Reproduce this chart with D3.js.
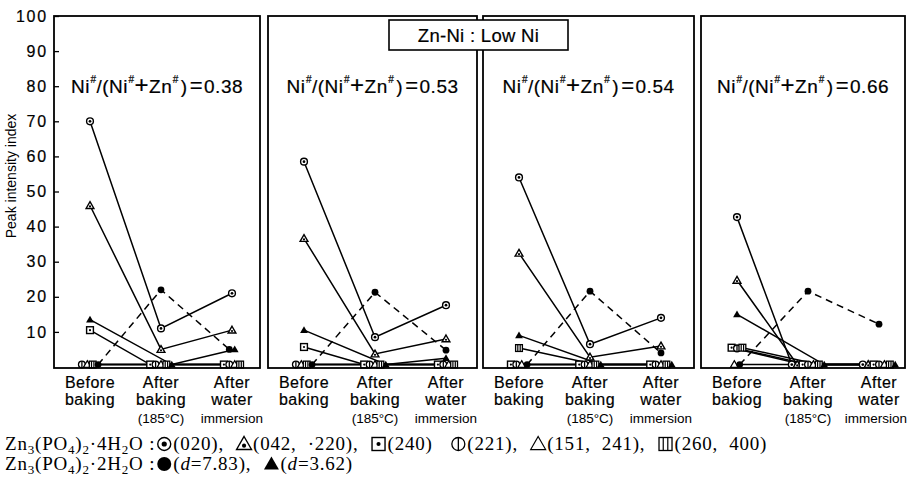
<!DOCTYPE html>
<html>
<head>
<meta charset="utf-8">
<script src="https://cdn.jsdelivr.net/npm/d3@7"></script>
<style>
  html, body { margin: 0; padding: 0; background: #fff; }
  svg { display: block; font-family: "Liberation Sans", Arial, sans-serif; }
  .heavy { stroke: #000; stroke-width: 0.2px; }
</style>
</head>
<body>
<svg id="chart" width="909" height="481"></svg>
<script>
// stages on the x axis of every panel
const stages = ["Before baking", "After baking (185°C)", "After water immersion"];
const ratios = ["0.38", "0.53", "0.54", "0.66"];
const yTicks = [10, 20, 30, 40, 50, 60, 70, 80, 90, 100];

// peak intensity index, one row per panel (Ni ratio), one value per stage
const p020     = [[70, 11, 21], [58.5, 8.5, 17.6], [54, 6.5, 14], [42.7, 0.7, 0.7]];
const p042_220 = [[46, 5, 10.5], [36.6, 3.7, 8], [32.4, 2.8, 6], [24.7, 0.7, 0.7]];
const p240     = [[10.5, 0.7, 0.7], [5.7, 0.7, 0.7], [0.7, 0.7, 0.7], [5.5, 0.7, 0.7]];
const p221     = [[0.7, 0.7, 0.7], [0.7, 0.7, 0.7], [0.7, 0.7, 0.7], [5.3, 0.7, 0.7]];
const p151_241 = [[0.7, 0.7, 0.7], [0.7, 0.7, 0.7], [0.7, 0.7, 0.7], [0.7, 0.7, 0.7]];
const p260_400 = [[0.7, 0.7, 0.7], [0.7, 0.7, 0.7], [5.4, 0.7, 0.7], [5.5, 0.7, 0.7]];
const pD783    = [[0.7, 22, 5], [0.7, 21.3, 4.8], [0.7, 21.6, 4], [0.7, 21.6, 12.2]];
const pD362    = [[13.5, 0.7, 5], [10.5, 0.7, 2.5], [9, 0.7, 0.7], [15, 0.7, 0.7]];

const series = [
  {marker: "circDot", dashed: false, values: p020},
  {marker: "triDot",  dashed: false, values: p042_220},
  {marker: "sqDot",   dashed: false, values: p240},
  {marker: "circBar", dashed: false, values: p221},
  {marker: "tri",     dashed: false, values: p151_241},
  {marker: "sqBars",  dashed: false, values: p260_400},
  {marker: "dot",     dashed: true,  values: pD783},
  {marker: "triFill", dashed: false, values: pD362},
];

const svg = d3.select("#chart");

const y = d3.scaleLinear().domain([0, 100]).range([367, 16]);
const panelEdges = [[54, 260], [268, 477], [483, 694], [701, 905]];

const triPath = s => `M0,${-s * 1.15}L${s * 1.15},${s * 0.85}L${-s * 1.15},${s * 0.85}Z`;
const markerDraw = {
  circDot: (g, s) => {
    g.append("circle").attr("r", s).attr("fill", "#fff").attr("stroke", "#000").attr("stroke-width", 1.4);
    g.append("circle").attr("r", s * 0.4).attr("fill", "#000");
  },
  triDot: (g, s) => {
    g.append("path").attr("d", triPath(s)).attr("fill", "#fff").attr("stroke", "#000").attr("stroke-width", 1.4);
    g.append("circle").attr("cy", s * 0.25).attr("r", s * 0.32).attr("fill", "#000");
  },
  sqDot: (g, s) => {
    g.append("rect").attr("x", -s).attr("y", -s).attr("width", 2 * s).attr("height", 2 * s)
      .attr("fill", "#fff").attr("stroke", "#000").attr("stroke-width", 1.4);
    g.append("circle").attr("r", s * 0.32).attr("fill", "#000");
  },
  circBar: (g, s) => {
    g.append("circle").attr("r", s).attr("fill", "#fff").attr("stroke", "#000").attr("stroke-width", 1.3);
    g.append("line").attr("y1", -s).attr("y2", s).attr("stroke", "#000").attr("stroke-width", 1.3);
  },
  tri: (g, s) => {
    g.append("path").attr("d", triPath(s)).attr("fill", "#fff").attr("stroke", "#000").attr("stroke-width", 1.2);
  },
  sqBars: (g, s) => {
    g.append("rect").attr("x", -s).attr("y", -s).attr("width", 2 * s).attr("height", 2 * s)
      .attr("fill", "#fff").attr("stroke", "#000").attr("stroke-width", 1.3);
    [-0.35, 0.35].forEach(f => g.append("line").attr("x1", f * s).attr("x2", f * s)
      .attr("y1", -s).attr("y2", s).attr("stroke", "#000").attr("stroke-width", 1.2));
  },
  dot: (g, s) => {
    g.append("circle").attr("r", s).attr("fill", "#000");
  },
  triFill: (g, s) => {
    g.append("path").attr("d", triPath(s)).attr("fill", "#000");
  },
};

// y axis on the first panel, ticks pointing into the plot
svg.append("g")
  .attr("transform", `translate(${panelEdges[0][0]},0)`)
  .call(d3.axisLeft(y).tickValues(yTicks).tickSizeInner(-5).tickSizeOuter(0).tickPadding(6))
  .call(g => g.select(".domain").remove())
  .call(g => g.selectAll(".tick line").attr("stroke", "#000").attr("stroke-width", 1.3))
  .call(g => g.selectAll(".tick text").attr("fill", "#000").attr("class", "heavy")
    .attr("font-family", "Liberation Sans, Arial, sans-serif")
    .attr("font-size", 16).attr("letter-spacing", 1.8));

svg.append("text")
  .attr("transform", "translate(16,176) rotate(-90)")
  .attr("text-anchor", "middle")
  .attr("font-size", 14)
  .text("Peak intensity index");

panelEdges.forEach(([x0, x1], p) => {
  const g = svg.append("g");
  const x = d3.scalePoint().domain(stages).range([x0 + 36, x0 + 178]);

  // points with positions, overlapping values spread sideways
  const pts = series.map((s, si) => stages.map((st, i) => ({
    si, stage: st, v: s.values[p][i], cx: x(st), dx: 0,
  })));
  stages.forEach((st, i) => {
    const col = pts.map(row => row[i]).sort((a, b) => a.v - b.v || a.si - b.si);
    let groups = [], cur = [];
    col.forEach(pt => {
      if (cur.length && pt.v - cur[cur.length - 1].v > 1.2) { groups.push(cur); cur = []; }
      cur.push(pt);
    });
    groups.push(cur);
    groups.forEach(gr => {
      gr.sort((a, b) => a.si - b.si);
      gr.forEach((pt, k) => { pt.dx = gr.length > 1 ? (k - (gr.length - 1) / 2) * 5.4 : 0; });
    });
  });

  const line = d3.line().x(d => d.cx + d.dx).y(d => y(d.v));
  series.forEach((s, si) => {
    g.append("path")
      .attr("d", line(pts[si]))
      .attr("fill", "none")
      .attr("stroke", "#000")
      .attr("stroke-width", 1.5)
      .attr("stroke-dasharray", s.dashed ? "7,5" : null);
  });
  series.forEach((s, si) => {
    pts[si].forEach(pt => {
      const m = g.append("g").attr("transform", `translate(${pt.cx + pt.dx},${y(pt.v)})`);
      markerDraw[s.marker](m, 3.4);
    });
  });

  // panel frame
  g.append("rect")
    .attr("x", x0).attr("y", y(100)).attr("width", x1 - x0).attr("height", y(0) + 1 - y(100))
    .attr("fill", "none").attr("stroke", "#000").attr("stroke-width", 1.8);

  // Ni ratio subtitle
  const t = g.append("text")
    .attr("class", "heavy")
    .attr("x", (x0 + x1) / 2).attr("y", 93)
    .attr("text-anchor", "middle")
    .attr("font-size", 19)
    .attr("letter-spacing", 0.5);
  t.append("tspan").text("Ni");
  t.append("tspan").attr("font-size", 10).attr("dx", 0.5).attr("dy", -10).text("#");
  t.append("tspan").attr("dy", 10).text("/(Ni");
  t.append("tspan").attr("font-size", 10).attr("dx", 0.5).attr("dy", -10).text("#");
  t.append("tspan").attr("dy", 10).attr("font-size", 24).attr("dx", 0).text("+");
  t.append("tspan").text("Zn");
  t.append("tspan").attr("font-size", 10).attr("dx", 0.5).attr("dy", -10).text("#");
  t.append("tspan").attr("dy", 10).attr("dx", 2).text(")");
  t.append("tspan").attr("dx", 2).attr("font-size", 22).text("=");
  t.append("tspan").attr("dx", 1).text(ratios[p]);

  // stage labels
  const labels = [
    ["Before", p === 3 ? "bakiog" : "baking"],
    ["After", "baking", "(185°C)"],
    ["After", "water", "immersion"],
  ];
  stages.forEach((st, i) => {
    labels[i].forEach((txt, k) => {
      const el = g.append("text")
        .attr("class", k === 2 ? null : "heavy")
        .attr("x", x(st)).attr("y", 388 + k * 17 + (k === 2 ? 1 : 0))
        .attr("text-anchor", "middle")
        .attr("font-size", k === 2 ? 13.5 : 16)
        .attr("letter-spacing", k === 2 ? 0 : 0.5)
        .text(txt);
      if (k === 2) {
        const w = el.node().getComputedTextLength();
        if (x(st) + w / 2 > 907) el.attr("x", 907 - w / 2);
      }
    });
  });
});

// title box
svg.append("rect")
  .attr("x", 389).attr("y", 20).attr("width", 179).attr("height", 30)
  .attr("fill", "#fff").attr("stroke", "#000").attr("stroke-width", 1.6);
svg.append("text")
  .attr("class", "heavy")
  .attr("x", 478.5).attr("y", 42).attr("text-anchor", "middle")
  .attr("font-size", 18.5).attr("letter-spacing", 0.3).text("Zn-Ni : Low Ni");

// legend rows
const legendRows = [
  [{t: "Zn"}, {sub: "3"}, {t: "(PO"}, {sub: "4"}, {t: ")"}, {sub: "2"}, {t: "·4H"}, {sub: "2"}, {t: "O : "},
   {m: "circDot"}, {t: "(020),\u00a0\u00a0"}, {m: "triDot"}, {t: "(042,\u00a0\u00a0·220),\u00a0\u00a0"},
   {m: "sqDot"}, {t: "(240)\u00a0\u00a0\u00a0"}, {m: "circBar"}, {t: "(221),\u00a0\u00a0"},
   {m: "tri"}, {t: "(151,\u00a0\u00a0241),\u00a0\u00a0"}, {m: "sqBars"}, {t: "(260,\u00a0\u00a0400)"}],
  [{t: "Zn"}, {sub: "3"}, {t: "(PO"}, {sub: "4"}, {t: ")"}, {sub: "2"}, {t: "·2H"}, {sub: "2"}, {t: "O : "},
   {m: "dot"}, {t: "("}, {it: "d"}, {t: "=7.83),\u00a0\u00a0"}, {m: "triFill"}, {t: "("}, {it: "d"}, {t: "=3.62)"}],
];
const legend = svg.append("g").attr("font-family", "Liberation Serif, Times New Roman, serif");
legendRows.forEach((row, r) => {
  let cx = 5;
  const by = 450 + r * 20;
  row.forEach(piece => {
    if (piece.m) {
      const m = legend.append("g").attr("transform", `translate(${cx + 9},${by - 6})`);
      markerDraw[piece.m](m, piece.m === "dot" ? 7 : 6.5);
      cx += 18;
      return;
    }
    const el = legend.append("text").attr("x", cx).attr("y", by)
      .attr("font-size", 19).attr("letter-spacing", 0.8);
    if (piece.sub) el.attr("font-size", 13).attr("y", by + 4).text(piece.sub);
    else if (piece.it) el.attr("font-style", "italic").text(piece.it);
    else el.text(piece.t);
    cx += el.node().getComputedTextLength();
  });
});
</script>
</body>
</html>
